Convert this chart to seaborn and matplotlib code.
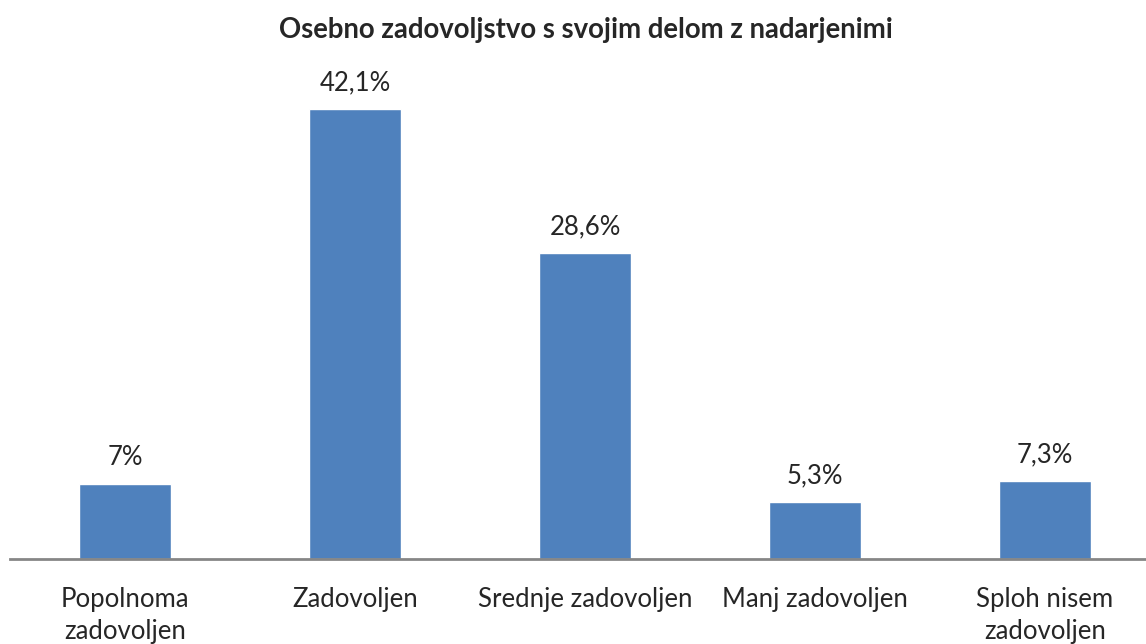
import matplotlib
matplotlib.use("Agg")
import matplotlib.pyplot as plt
import seaborn as sns
import pandas as pd

kategorije = ["Popolnoma\nzadovoljen", "Zadovoljen", "Srednje zadovoljen",
              "Manj zadovoljen", "Sploh nisem\nzadovoljen"]
odstotki = [7.0, 42.1, 28.6, 5.3, 7.3]
oznake = ["7%", "42,1%", "28,6%", "5,3%", "7,3%"]

df = pd.DataFrame({"kategorija": kategorije, "odstotek": odstotki})

sns.set_style("white")
plt.rcParams["font.family"] = ["Lato", "DejaVu Sans"]

fig = plt.figure(figsize=(11.46, 6.44), dpi=100)
# os sega malo cez desni rob, kot v originalu
ax = fig.add_axes([10 / 1146, 1 - 559 / 644, 1150 / 1146, 481 / 644])

sns.barplot(data=df, x="kategorija", y="odstotek", color="#4F81BD",
            saturation=1, width=0.4, ax=ax)

ax.set_ylim(0, 45)
ax.set_xlim(-0.5, 4.5)
for s in ["top", "right", "left"]:
    ax.spines[s].set_visible(False)
ax.spines["bottom"].set_color("#868686")
ax.spines["bottom"].set_linewidth(2)
ax.set_yticks([])
ax.set_xlabel("")
ax.set_ylabel("")
ax.tick_params(axis="x", length=0, pad=20, labelsize=18.5)
for lbl in ax.get_xticklabels():
    lbl.set_linespacing(1.35)

for i, (v, t) in enumerate(zip(odstotki, oznake)):
    ax.annotate(t, (i, v), xytext=(0, 10), textcoords="offset points",
                ha="center", va="bottom", fontsize=18.5)

fig.text(586 / 1146, 1 - 30 / 644, "Osebno zadovoljstvo s svojim delom z nadarjenimi",
         ha="center", va="center", fontsize=19.8, fontweight="bold")

fig.savefig("out.png", dpi=100)
